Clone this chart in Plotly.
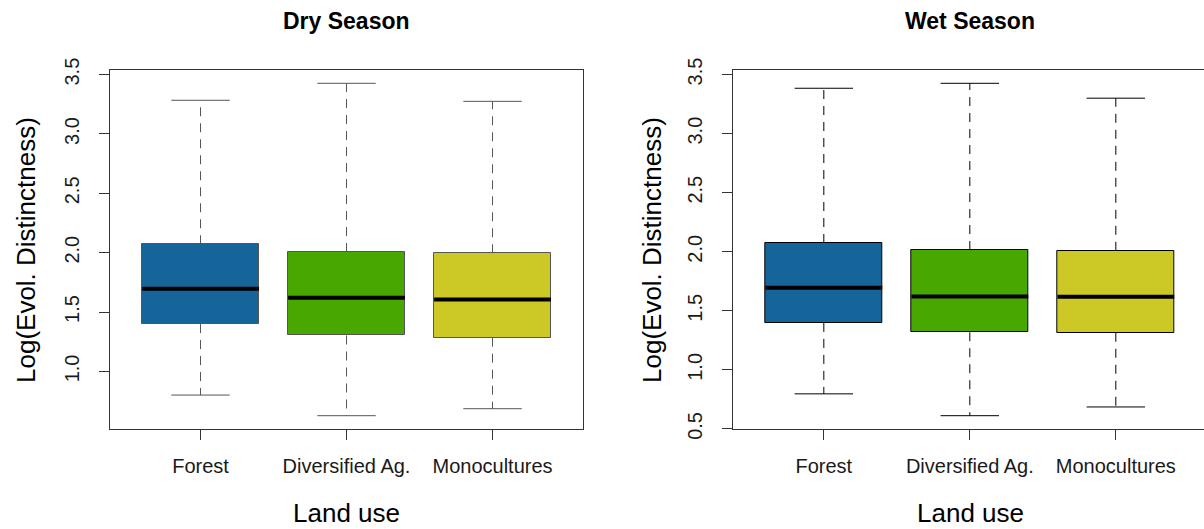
import plotly.graph_objects as go

# ---- data ----
categories = ["Forest", "Diversified Ag.", "Monocultures"]
positions = [1, 2, 3]
box_colors = ["#16659A", "#48A800", "#CCC825"]

dry_lower = [0.801, 0.627, 0.686]
dry_q1 = [1.399, 1.303, 1.284]
dry_median = [1.696, 1.620, 1.606]
dry_q3 = [2.071, 2.006, 1.995]
dry_upper = [3.284, 3.427, 3.275]

wet_lower = [0.797, 0.612, 0.686]
wet_q1 = [1.398, 1.319, 1.314]
wet_median = [1.695, 1.621, 1.619]
wet_q3 = [2.074, 2.014, 2.008]
wet_upper = [3.384, 3.426, 3.300]

dry_ticks = [1.0, 1.5, 2.0, 2.5, 3.0, 3.5]
wet_ticks = [0.5, 1.0, 1.5, 2.0, 2.5, 3.0, 3.5]

titles = ["Dry Season", "Wet Season"]
y_title = "Log(Evol. Distinctness)"
x_title = "Land use"

W, H = 1204, 529
FONT = "Liberation Sans, Arial, sans-serif"
BOXW = 0.8

fig = go.Figure()


def add_panel(xa, ya, lower, q1, med, q3, upper, lc):
    fig.add_trace(go.Bar(
        x=positions, y=[b - a for a, b in zip(q1, q3)], base=q1, width=BOXW,
        marker=dict(color=box_colors, line=dict(color=lc, width=1)),
        xaxis=xa, yaxis=ya, showlegend=False, hoverinfo="skip"))
    wx, wy, cx, cy, mx, my = [], [], [], [], [], []
    for p, lo, a, m, b, hi in zip(positions, lower, q1, med, q3, upper):
        wx += [p, p, None, p, p, None]
        wy += [b, hi, None, a, lo, None]
        cx += [p - BOXW / 4, p + BOXW / 4, None, p - BOXW / 4, p + BOXW / 4, None]
        cy += [hi, hi, None, lo, lo, None]
        mx += [p - BOXW / 2, p + BOXW / 2, None]
        my += [m, m, None]
    fig.add_trace(go.Scatter(x=wx, y=wy, mode="lines", xaxis=xa, yaxis=ya,
                             line=dict(color=lc, width=1, dash="9px,7px"),
                             showlegend=False, hoverinfo="skip"))
    fig.add_trace(go.Scatter(x=cx, y=cy, mode="lines", xaxis=xa, yaxis=ya,
                             line=dict(color=lc, width=1),
                             showlegend=False, hoverinfo="skip"))
    fig.add_trace(go.Scatter(x=mx, y=my, mode="lines", xaxis=xa, yaxis=ya,
                             line=dict(color="black", width=4),
                             showlegend=False, hoverinfo="skip"))


add_panel("x", "y", dry_lower, dry_q1, dry_median, dry_q3, dry_upper, "#555555")
add_panel("x2", "y2", wet_lower, wet_q1, wet_median, wet_q3, wet_upper, "#000000")


def yrange(lo, hi):
    lo_, hi_ = min(lo), max(hi)
    pad = (hi_ - lo_) * 0.04
    return [lo_ - pad, hi_ + pad]


px_per_unit = 146.0
x_lo = 0.38
left_dom = [110 / W, 583 / W]
right_dom = [733.3 / W, 1.0]

tickfont = dict(family=FONT, size=20, color="#1a1a1a")

common_x = dict(tickmode="array", tickvals=positions, ticktext=categories,
                showgrid=False, zeroline=False, showline=True, linecolor="#333",
                linewidth=1, ticks="outside", ticklen=10, tickcolor="#333",
                tickfont=tickfont, ticklabelstandoff=9, mirror=True,
                automargin=False)
common_y = dict(showgrid=False, zeroline=False, showline=True, linecolor="#333",
                linewidth=1, ticks="outside", ticklen=10, tickcolor="#333",
                tickfont=tickfont, tickangle=-90, tickformat=".1f",
                ticklabelstandoff=12, automargin=False)

ydom = [1 - 429 / H, 1 - 70 / H]

fig.update_layout(
    width=W, height=H,
    margin=dict(l=0, r=0, t=0, b=0, pad=0, autoexpand=False),
    paper_bgcolor="white", plot_bgcolor="white",
    font=dict(family=FONT, color="black"),
    xaxis=dict(domain=left_dom, anchor="y",
               range=[x_lo, x_lo + (583 - 110) / px_per_unit], **common_x),
    yaxis=dict(domain=ydom, anchor="x", range=yrange(dry_lower, dry_upper),
               tickvals=dry_ticks, mirror=True, **common_y),
    xaxis2=dict(domain=right_dom, anchor="y2",
                range=[x_lo, x_lo + (W - 733.3) / px_per_unit], **common_x),
    yaxis2=dict(domain=ydom, anchor="x2", range=yrange(wet_lower, wet_upper),
                tickvals=wet_ticks, mirror=False, **common_y),
    bargap=0,
)

# titles and axis labels
centers = [(110 + 583) / 2, (733.3 + 1206.8) / 2]
ytitle_x = [26, 652]
for i in range(2):
    fig.add_annotation(text="<b>%s</b>" % titles[i], x=centers[i] / W, y=1 - 21 / H,
                       xref="paper", yref="paper", xanchor="center", yanchor="middle",
                       showarrow=False, font=dict(family=FONT, size=23, color="black"))
    fig.add_annotation(text=x_title, x=centers[i] / W, y=1 - 513 / H,
                       xref="paper", yref="paper", xanchor="center", yanchor="middle",
                       showarrow=False, font=dict(family=FONT, size=26, color="black"))
    fig.add_annotation(text=y_title, x=ytitle_x[i] / W, y=1 - 250 / H, textangle=-90,
                       xref="paper", yref="paper", xanchor="center", yanchor="middle",
                       showarrow=False, font=dict(family=FONT, size=26, color="black"))

fig.write_html("out.html")
